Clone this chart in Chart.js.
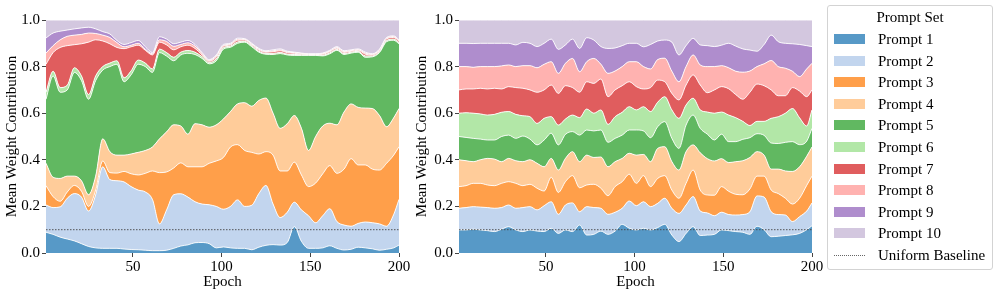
<!DOCTYPE html>
<html>
<head>
<meta charset="utf-8">
<script src="https://cdn.jsdelivr.net/npm/chart.js@4.4.1/dist/chart.umd.min.js"></script>
<style>
  html, body { margin: 0; padding: 0; background: #fff; }
  body { width: 997px; height: 294px; position: relative; overflow: hidden;
         font-family: "Liberation Serif", "DejaVu Serif", serif; color: #000; }
  #cLeft { position: absolute; left: 0; top: 0; }
  #cRight { position: absolute; left: 410px; top: 0; }
  #legend { position: absolute; left: 827px; top: 5px; width: 164px; height: 263px;
            border: 1px solid #d3d3d3; border-radius: 3px; background: #fff; }
  #legend .title { position: absolute; left: 0; width: 100%; top: 2px; text-align: center; font-size: 15px; line-height: 18px; }
  #legend .item { position: absolute; left: 6px; height: 18px; font-size: 15px; line-height: 18px; }
  #legend .sw { position: absolute; left: 0; top: 4px; width: 31px; height: 10px; }
  #legend .dots { position: absolute; left: 0; top: 9px; width: 31px; height: 0; border-top: 1px dotted #666; }
  #legend .lbl { position: absolute; left: 44px; top: 0; white-space: nowrap; }
</style>
</head>
<body>
<canvas id="cLeft" width="420" height="294"></canvas>
<canvas id="cRight" width="415" height="294"></canvas>
<div id="legend"></div>

<script>
// Epochs (x positions shared by every series)
const epochs = [1,5,9,13,17,21,25,29,33,37,41,45,49,53,57,61,65,69,73,77,81,85,89,93,97,101,105,109,113,117,121,125,129,133,137,141,145,149,153,157,161,165,169,173,177,181,185,189,193,197,200];
const epochTicks = [50, 100, 150, 200];
const uniformBaseline = 0.1;

const promptLabels = ["Prompt 1","Prompt 2","Prompt 3","Prompt 4","Prompt 5","Prompt 6","Prompt 7","Prompt 8","Prompt 9","Prompt 10"];

// tab20 colours at alpha 0.75 on white
const fillColors = ["#5799c7","#c2d5ee","#ff9f4a","#ffcc9a","#61b861","#b2e7a7","#e05d5e","#ffb2b0","#af8dcd","#d3c7df"];

// Left panel: mean weight per prompt
const leftP1 = [.089,.08,.068,.06,.052,.04,.028,.022,.02,.02,.02,.017,.015,.014,.012,.01,.01,.012,.02,.03,.035,.044,.045,.04,.022,.026,.022,.02,.02,.014,.025,.033,.036,.034,.045,.113,.05,.02,.02,.022,.031,.02,.013,.016,.025,.022,.018,.012,.016,.022,.034];
const leftP2 = [.117,.115,.13,.175,.203,.2,.152,.228,.35,.295,.29,.288,.27,.256,.25,.22,.115,.173,.23,.224,.205,.176,.165,.167,.178,.162,.178,.208,.18,.191,.23,.257,.174,.118,.13,.105,.135,.14,.11,.138,.159,.115,.107,.099,.102,.111,.112,.113,.099,.143,.196];
const leftP3 = [.083,.047,.024,.027,.035,.025,.02,.02,.025,.03,.033,.045,.055,.065,.08,.122,.22,.163,.115,.133,.13,.15,.16,.178,.195,.222,.255,.237,.24,.227,.17,.145,.21,.2,.177,.172,.15,.125,.17,.18,.185,.207,.24,.29,.251,.245,.23,.231,.27,.255,.226];
const leftP4 = [.096,.083,.098,.068,.04,.045,.05,.06,.095,.09,.077,.07,.085,.097,.098,.103,.145,.172,.185,.158,.14,.185,.18,.155,.155,.165,.152,.175,.205,.198,.23,.23,.18,.183,.203,.2,.2,.155,.2,.205,.182,.208,.245,.235,.247,.244,.26,.234,.157,.16,.164];
const leftP5 = [.275,.435,.37,.37,.445,.43,.41,.41,.295,.365,.39,.315,.34,.378,.36,.32,.37,.325,.275,.305,.347,.297,.285,.272,.275,.3,.276,.26,.26,.255,.207,.188,.252,.321,.295,.258,.313,.408,.348,.301,.298,.32,.247,.218,.237,.218,.222,.27,.365,.333,.278];
const leftP6 = [.03,.02,.02,.02,.02,.02,.02,.02,.015,.015,.015,.017,.017,.018,.015,.015,.015,.015,.015,.012,.012,.01,.008,.006,.008,.006,.005,.006,.004,.005,.004,.004,.005,.005,.004,.004,.003,.002,.002,.003,.004,.004,.004,.004,.004,.006,.004,.004,.005,.005,.005];
const leftP7 = [.12,.08,.172,.17,.099,.138,.225,.155,.11,.083,.057,.125,.103,.064,.055,.06,.03,.033,.032,.023,.023,.016,.007,.005,.007,.006,.005,.007,.005,.004,.005,.005,.007,.007,.006,.005,.003,.002,.002,.004,.005,.005,.005,.004,.004,.007,.004,.005,.006,.007,.006];
const leftP8 = [.048,.03,.033,.04,.041,.04,.039,.027,.025,.027,.021,.008,.007,.008,.005,.005,.01,.015,.015,.01,.01,.01,.006,.004,.006,.004,.004,.005,.003,.003,.004,.003,.004,.004,.003,.003,.002,.002,.002,.003,.003,.004,.004,.003,.003,.005,.003,.003,.004,.004,.003];
const leftP9 = [.065,.054,.037,.027,.027,.028,.025,.02,.015,.015,.009,.01,.011,.012,.01,.005,.013,.01,.011,.01,.01,.007,.004,.003,.004,.004,.003,.004,.003,.003,.003,.003,.004,.004,.003,.002,.002,.001,.001,.002,.003,.003,.003,.003,.003,.004,.002,.003,.003,.003,.003];
const leftP10 = [.077,.056,.048,.043,.038,.034,.031,.038,.05,.06,.088,.105,.097,.088,.115,.14,.072,.082,.102,.095,.088,.105,.14,.17,.15,.105,.1,.078,.08,.1,.122,.132,.128,.124,.134,.138,.142,.145,.145,.142,.13,.114,.132,.128,.124,.138,.145,.125,.075,.068,.085];

// Right panel: mean weight per prompt
const rightP1 = [.099,.099,.102,.099,.096,.092,.102,.113,.099,.092,.099,.094,.092,.106,.084,.099,.092,.12,.077,.08,.094,.08,.094,.123,.106,.099,.106,.099,.109,.123,.077,.049,.084,.113,.075,.077,.08,.099,.096,.092,.089,.08,.115,.1,.07,.072,.075,.078,.084,.1,.117];
const rightP2 = [.093,.096,.097,.098,.099,.1,.093,.093,.093,.103,.1,.091,.111,.114,.082,.107,.123,.057,.122,.115,.098,.086,.081,.069,.117,.104,.114,.1,.104,.112,.115,.121,.122,.129,.105,.095,.08,.076,.069,.071,.076,.097,.13,.14,.107,.093,.088,.057,.072,.08,.098];
const rightP3 = [.093,.094,.1,.102,.097,.097,.104,.1,.107,.094,.096,.093,.063,.105,.094,.1,.117,.103,.093,.1,.086,.08,.11,.114,.115,.096,.112,.086,.107,.097,.078,.065,.093,.114,.09,.077,.088,.11,.1,.089,.085,.098,.085,.09,.093,.09,.072,.075,.079,.11,.115];
const rightP4 = [.115,.107,.093,.101,.114,.114,.093,.1,.097,.103,.105,.107,.104,.081,.096,.1,.103,.112,.128,.115,.134,.124,.107,.1,.09,.121,.091,.107,.129,.124,.122,.121,.136,.108,.16,.156,.147,.12,.123,.14,.146,.135,.105,.09,.09,.105,.117,.14,.135,.125,.125];
const rightP5 = [.1,.1,.1,.089,.079,.082,.108,.1,.096,.11,.089,.079,.115,.108,.108,.103,.086,.114,.108,.114,.116,.105,.1,.1,.1,.108,.101,.103,.093,.108,.1,.093,.114,.128,.105,.105,.09,.105,.09,.086,.092,.085,.077,.085,.112,.11,.123,.128,.095,.065,.08];
const rightP6 = [.1,.106,.108,.108,.107,.11,.104,.101,.103,.087,.096,.092,.093,.071,.085,.066,.071,.075,.09,.076,.086,.077,.093,.098,.1,.086,.104,.112,.105,.107,.122,.129,.086,.072,.079,.095,.115,.095,.114,.103,.077,.052,.053,.06,.106,.115,.125,.142,.115,.065,.079];
const rightP7 = [.1,.102,.104,.11,.112,.112,.1,.107,.115,.118,.115,.134,.122,.136,.136,.143,.118,.109,.117,.128,.133,.119,.115,.114,.107,.1,.076,.103,.095,.064,.071,.079,.086,.1,.107,.083,.1,.109,.113,.099,.095,.143,.16,.153,.122,.09,.075,.09,.115,.126,.086];
const rightP8 = [.1,.096,.093,.093,.096,.093,.099,.093,.09,.097,.104,.105,.11,.1,.086,.096,.125,.088,.086,.107,.063,.1,.081,.082,.086,.107,.096,.08,.088,.101,.095,.078,.079,.086,.086,.112,.1,.09,.09,.1,.116,.091,.075,.094,.126,.125,.118,.07,.062,.119,.114];
const rightP9 = [.1,.1,.102,.1,.1,.1,.097,.093,.093,.1,.096,.091,.09,.097,.103,.079,.083,.1,.103,.079,.076,.107,.099,.09,.079,.079,.085,.105,.08,.078,.125,.115,.09,.071,.086,.09,.086,.088,.105,.108,.1,.09,.066,.083,.109,.107,.107,.118,.138,.1,.072];
const rightP10 = [.1,.1,.101,.1,.1,.1,.1,.1,.107,.096,.1,.114,.1,.082,.126,.107,.082,.122,.076,.086,.114,.122,.12,.11,.1,.1,.115,.105,.09,.086,.095,.15,.11,.079,.107,.11,.114,.108,.1,.112,.124,.129,.134,.105,.065,.093,.1,.102,.105,.11,.114];

const leftSeries = [leftP1, leftP2, leftP3, leftP4, leftP5, leftP6, leftP7, leftP8, leftP9, leftP10];
const rightSeries = [rightP1, rightP2, rightP3, rightP4, rightP5, rightP6, rightP7, rightP8, rightP9, rightP10];

const serif = '"Liberation Serif", "DejaVu Serif", serif';
const axisFont = { family: serif, size: 15 };

function buildStackChart(canvasId, series, yAxisWidth, padRight) {
  const ctx = document.getElementById(canvasId).getContext("2d");

  const datasets = series.map((vals, i) => ({
    label: promptLabels[i],
    data: epochs.map((e, j) => ({ x: e, y: vals[j] })),
    backgroundColor: fillColors[i],
    borderColor: "#ffffff",
    borderWidth: 0.9,
    pointRadius: 0,
    fill: i === 0 ? "origin" : "-1",
    cubicInterpolationMode: "monotone",
    stack: "prompts",
    order: 1
  }));

  // dotted reference line, kept out of the stack
  datasets.push({
    label: "Uniform Baseline",
    data: [{ x: epochs[0], y: uniformBaseline }, { x: epochs[epochs.length - 1], y: uniformBaseline }],
    borderColor: "rgba(70,70,70,0.9)",
    borderWidth: 1,
    borderDash: [1.5, 1.5],
    pointRadius: 0,
    fill: false,
    stack: "baseline",
    order: 0
  });

  return new Chart(ctx, {
    type: "line",
    data: { datasets },
    options: {
      responsive: false,
      animation: false,
      layout: { padding: { top: 20, right: padRight, bottom: 0, left: 0 } },
      plugins: { legend: { display: false }, tooltip: { enabled: false } },
      scales: {
        x: {
          type: "linear",
          min: 1,
          max: 200,
          afterBuildTicks: (s) => { s.ticks = epochTicks.map(v => ({ value: v })); },
          afterFit: (s) => { s.height = 41; },
          grid: { display: true, drawOnChartArea: false, drawTicks: true, tickLength: 4, color: "#444" },
          border: { display: false },
          ticks: { font: axisFont, color: "#000", padding: 1, maxRotation: 0 },
          title: { display: true, text: "Epoch", font: axisFont, color: "#000", padding: { top: 0, bottom: 3 } }
        },
        y: {
          stacked: true,
          min: 0,
          max: 1,
          afterFit: (s) => { s.width = yAxisWidth; },
          grid: { display: true, drawOnChartArea: false, drawTicks: true, tickLength: 4, color: "#444" },
          border: { display: false },
          ticks: { stepSize: 0.2, font: axisFont, color: "#000", padding: 2, callback: (v) => v.toFixed(1) },
          title: { display: true, text: "Mean Weight Contribution", font: axisFont, color: "#000", padding: { top: 3, bottom: 0 } }
        }
      }
    }
  });
}

buildStackChart("cLeft", leftSeries, 46, 21);
buildStackChart("cRight", rightSeries, 49, 13);

// Shared legend
const legend = document.getElementById("legend");
let html = '<div class="title">Prompt Set</div>';
promptLabels.forEach((lbl, i) => {
  const top = 24 + i * 21.6;
  html += `<div class="item" style="top:${top}px"><div class="sw" style="background:${fillColors[i]}"></div><div class="lbl">${lbl}</div></div>`;
});
html += `<div class="item" style="top:${24 + 10 * 21.6}px"><div class="dots"></div><div class="lbl">Uniform Baseline</div></div>`;
legend.innerHTML = html;
</script>
</body>
</html>
